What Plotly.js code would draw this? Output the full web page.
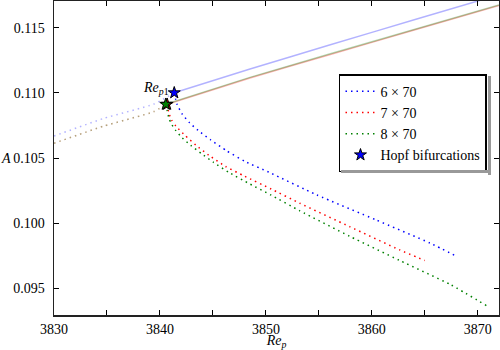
<!DOCTYPE html>
<html>
<head>
<meta charset="utf-8">
<script src="https://cdn.plot.ly/plotly-3.0.1.min.js"></script>
<style>
  body { margin: 0; background: #fff; }
  #chart { width: 500px; height: 350px; }
</style>
</head>
<body>
<div id="chart"></div>
<script>
// Hopf points (6x70, 7x70, 8x70)
var hopfRe = [3841.35, 3840.68, 3840.55];
var hopfA = [0.1100, 0.10912, 0.10912];

// upper solid (stable) branches
var upper6Re = [3841.35, 3848.5, 3856, 3864, 3872];
var upper6A = [0.1100, 0.11182, 0.11366, 0.11560, 0.11752];
var upper7Re = [3840.68, 3848.5, 3856, 3864, 3872];
var upper7A = [0.10912, 0.11114, 0.11292, 0.11481, 0.11669];
var upper8Re = [3840.55, 3848.5, 3856, 3864, 3872];
var upper8A = [0.10912, 0.11118, 0.11297, 0.11486, 0.11674];

// left dotted light branches
var left6Re = [3830, 3834.7, 3839.4, 3841.35];
var left6A = [0.10668, 0.10804, 0.10913, 0.1100];
var left78Re = [3830, 3834.7, 3839.4, 3840.6];
var left78A = [0.10613, 0.10745, 0.10855, 0.10912];

// lower dotted branches
var low6Re = [3841.35, 3841.6, 3842.1, 3842.8, 3843.6, 3844.8, 3846.3, 3848.0, 3850.3, 3854.8, 3860.4, 3865.5, 3868.05];
var low6A = [0.1100, 0.10915, 0.10837, 0.1077, 0.10712, 0.10638, 0.10555, 0.10475, 0.1039, 0.10217, 0.10025, 0.09847, 0.09744];
var low7Re = [3840.68, 3840.85, 3841.1, 3841.5, 3842.4, 3843.4, 3844.6, 3846.2, 3848.0, 3850.5, 3853.2, 3857.9, 3862.6, 3865.0];
var low7A = [0.10912, 0.10842, 0.10792, 0.10745, 0.10671, 0.10598, 0.10522, 0.10435, 0.1036, 0.10262, 0.10153, 0.09974, 0.09796, 0.09714];
var low8Re = [3840.55, 3840.69, 3840.85, 3841.1, 3841.5, 3842.1, 3842.9, 3843.9, 3845.03, 3846.5, 3848.5, 3850.5, 3853.2, 3857.9, 3862.6, 3867.4, 3871.0];
var low8A = [0.10912, 0.10862, 0.10805, 0.10758, 0.1071, 0.10655, 0.10597, 0.10535, 0.10468, 0.1039, 0.10300, 0.10215, 0.10095, 0.09900, 0.09715, 0.09530, 0.09359];

var legendNames = ['6 \u00d7 70', '7 \u00d7 70', '8 \u00d7 70', 'Hopf bifurcations'];
var colors = ['#0000ff', '#ff0000', '#008000'];
var light = ['rgba(0,0,255,0.3)', 'rgba(255,0,0,0.3)', 'rgba(0,128,0,0.3)'];
var dots = '1.5px,4px';
var font = 'Liberation Serif';

function line(x, y, color, dash, show, name) {
    return {
        type: 'scatter', mode: 'lines', x: x, y: y,
        line: {color: color, width: 1.5, dash: dash, shape: 'spline', smoothing: 0.5},
        showlegend: !!show, name: name || '', hoverinfo: 'skip'
    };
}

// thin grey strip used for the legend's drop shadow
function strip(x, y, w, h) {
    return {
        x: x, y: y, xref: 'paper', yref: 'paper', text: ' ', showarrow: false,
        width: w, height: h, bgcolor: '#999', borderpad: 0, borderwidth: 0,
        xanchor: 'center', yanchor: 'middle', font: {size: 1}
    };
}

var data = [
    line(left6Re, left6A, light[0], dots),
    line(left78Re, left78A, light[1], dots),
    line(left78Re, left78A, light[2], dots),
    line(upper6Re, upper6A, light[0], 'solid'),
    line(upper7Re, upper7A, light[1], 'solid'),
    line(upper8Re, upper8A, light[2], 'solid'),
    line(low6Re, low6A, colors[0], dots, true, legendNames[0]),
    line(low7Re, low7A, colors[1], dots, true, legendNames[1]),
    line(low8Re, low8A, colors[2], dots, true, legendNames[2]),
    {
        type: 'scatter', mode: 'markers', x: hopfRe, y: hopfA,
        name: legendNames[3],
        marker: {symbol: 'star', size: 9, color: colors, line: {color: '#000', width: 1}}
    }
];

var layout = {
    width: 500, height: 350,
    margin: {l: 54, r: 1, t: 1, b: 35},
    paper_bgcolor: '#fff', plot_bgcolor: '#fff',
    font: {family: font, size: 14, color: '#000'},
    xaxis: {
        range: [3830, 3872], dtick: 10, tick0: 3830,
        ticks: 'inside', ticklen: 5, tickcolor: '#000',
        minor: {dtick: 5, ticks: 'inside', ticklen: 5, tickcolor: '#000'},
        showline: true, linecolor: '#222', linewidth: 1.5, mirror: 'ticks',
        showgrid: false, zeroline: false, ticklabelstandoff: 1,
        tickfont: {family: font, size: 14},
        title: {text: '<i>Re</i><sub><i>p</i></sub>', standoff: 6, font: {family: font, size: 14}}
    },
    yaxis: {
        range: [0.09296, 0.11704], dtick: 0.005, tick0: 0.095, tickformat: '.3f',
        ticks: 'inside', ticklen: 5, tickcolor: '#000',
        showline: true, linecolor: '#222', linewidth: 1.5, mirror: 'ticks',
        showgrid: false, zeroline: false, ticklabelstandoff: 5,
        tickfont: {family: font, size: 14}
    },
    legend: {
        x: 0.973, xanchor: 'right', y: 0.611, yanchor: 'middle',
        bgcolor: '#fff', bordercolor: '#000', borderwidth: 1.5,
        font: {family: font, size: 14}
    },
    annotations: [{
        x: hopfRe[0], y: hopfA[0], xref: 'x', yref: 'y',
        text: '<i>Re</i><sub><i>p</i>1</sub>', showarrow: false,
        xanchor: 'right', yanchor: 'middle', xshift: -3, yshift: 4,
        font: {family: font, size: 14}
    }, {
        x: -0.108, y: 0.5, xref: 'paper', yref: 'paper',
        text: '<i>A</i>', showarrow: false, xanchor: 'center', yanchor: 'middle',
        font: {family: font, size: 14}
    },
    strip(0.9787, 0.6035, 3, 99),
    strip(0.8135, 0.4570, 150, 3)
    ]
};

Plotly.newPlot('chart', data, layout, {displayModeBar: false, staticPlot: true});
</script>
</body>
</html>
